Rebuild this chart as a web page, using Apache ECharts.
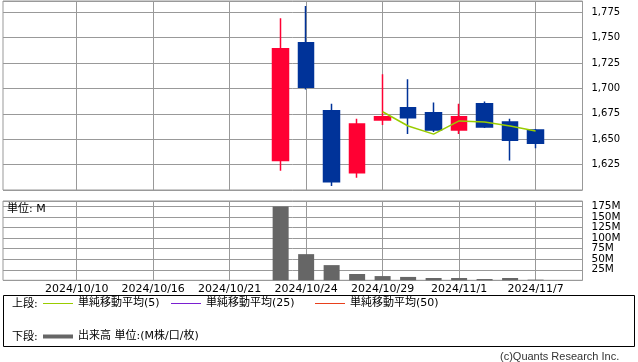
<!DOCTYPE html>
<html><head><meta charset="utf-8">
<script src="https://cdn.jsdelivr.net/npm/echarts@6/dist/echarts.min.js"></script>
<style>html,body{margin:0;padding:0;background:#fff}#c{width:638px;height:362px}</style>
</head><body><div id="c"></div>
<script>
// trading days (x positions are indices into this list)
const tradingDays = ['2024/10/10','2024/10/11','2024/10/15','2024/10/16','2024/10/17','2024/10/18','2024/10/21','2024/10/22','2024/10/23','2024/10/24','2024/10/25','2024/10/28','2024/10/29','2024/10/30','2024/10/31','2024/11/1','2024/11/5','2024/11/6','2024/11/7'];
const tickDates = ['2024/10/10','2024/10/16','2024/10/21','2024/10/24','2024/10/29','2024/11/1','2024/11/7'];

const candleDates = ['2024/10/23','2024/10/24','2024/10/25','2024/10/28','2024/10/29','2024/10/30','2024/10/31','2024/11/1','2024/11/5','2024/11/6','2024/11/7'];
const openP  = [1629,1745,1678,1617,1669,1681,1676,1659,1685,1667,1659];
const closeP = [1739,1701,1608,1665,1672,1671,1659,1672,1662,1649,1646];
const lowP   = [1619,1699,1604,1612,1664,1655,1657,1655,1661,1629,1641];
const highP  = [1769,1781,1685,1670,1714,1709,1686,1685,1687,1670,1660];
const volumeM = [175,62,36,15,10,8,5.5,5.5,3,5.5,1.5];

const ma5Dates = ['2024/10/29','2024/10/30','2024/10/31','2024/11/1','2024/11/5','2024/11/6','2024/11/7'];
const ma5 = [1677,1663,1655,1668,1667,1663,1658];

const idx = d => tradingDays.indexOf(d);
const tickIdx = tickDates.map(idx);

const candleData = candleDates.map((d,i)=>[idx(d), openP[i], closeP[i], lowP[i], highP[i]]);
const volData = candleDates.map((d,i)=>[idx(d), volumeM[i]]);
const ma5Data = ma5Dates.map((d,i)=>[idx(d), ma5[i]]);

const FONT = "'DejaVu Sans', 'Noto Sans CJK JP', sans-serif";
const GRID = '#999999';
const C_MA5 = '#99cc00', C_MA25 = '#7a1fd1', C_MA50 = '#e8401c', C_VOL = '#666666';

const xCommon = {
  type:'value', min:-2.89, max:19.84,
  axisLine:{show:false},
  axisTick:{show:false, customValues:tickIdx},
  splitLine:{show:true, lineStyle:{color:GRID, width:1}},
};
const legText = {fontSize:11, color:'#000', fontFamily:FONT};

const chart = echarts.init(document.getElementById('c'), null, {renderer:'canvas'});
chart.setOption({
  animation:false,
  backgroundColor:'#ffffff',
  textStyle:{fontFamily:FONT},
  title:[
    {text:'単位: M', left:7, top:204, padding:0, textStyle:{fontSize:11, fontWeight:'normal', color:'#000', fontFamily:FONT}},
    {text:'上段:', left:12, top:299, padding:0, textStyle:{fontSize:11, fontWeight:'normal', color:'#000', fontFamily:FONT}},
    {text:'下段:', left:12, top:332, padding:0, textStyle:{fontSize:11, fontWeight:'normal', color:'#000', fontFamily:FONT}},
    {text:'(c)Quants Research Inc.', left:500, top:351, padding:0, textStyle:{fontSize:11, fontWeight:'normal', color:'#333', fontFamily:"'Liberation Sans', sans-serif"}}
  ],
  legend:[
    {data:[{name:'単純移動平均(5)', itemStyle:{color:C_MA5}}], left:43, top:298, icon:'rect', itemWidth:30, itemHeight:1, selectedMode:false, padding:0, textStyle:legText},
    {data:[{name:'単純移動平均(25)', itemStyle:{color:C_MA25}}], left:171, top:298, icon:'rect', itemWidth:30, itemHeight:1, selectedMode:false, padding:0, textStyle:legText},
    {data:[{name:'単純移動平均(50)', itemStyle:{color:C_MA50}}], left:315, top:298, icon:'rect', itemWidth:30, itemHeight:1, selectedMode:false, padding:0, textStyle:legText},
    {data:[{name:'出来高 単位:(M株/口/枚)', itemStyle:{color:C_VOL}}], left:43, top:331, icon:'rect', itemWidth:30, itemHeight:4, selectedMode:false, padding:0, textStyle:legText}
  ],
  graphic:[
    {type:'rect', shape:{x:3.5, y:295.5, width:631, height:51}, style:{fill:'none', stroke:'#000', lineWidth:1}, silent:true}
  ],
  grid:[
    {left:3, right:55.5, top:1, height:189, show:true, borderColor:GRID, borderWidth:1},
    {left:3, right:55.5, top:201, height:79.3, show:true, borderColor:GRID, borderWidth:1}
  ],
  xAxis:[
    Object.assign({gridIndex:0, axisLabel:{show:false}}, xCommon),
    Object.assign({gridIndex:1, axisLabel:{show:true, customValues:tickIdx, margin:3, fontSize:11, color:'#000', fontFamily:FONT, formatter:v=>tradingDays[Math.round(v)]||''}}, xCommon)
  ],
  yAxis:[
    {gridIndex:0, type:'value', position:'right', min:1600, max:1786, interval:25,
     axisLine:{show:false}, axisTick:{show:true, length:5, lineStyle:{color:GRID}},
     splitLine:{show:true, lineStyle:{color:GRID}},
     axisLabel:{margin:9, fontSize:10, color:'#000', fontFamily:FONT, showMinLabel:false, showMaxLabel:false,
       formatter:v=>v.toLocaleString('en-US')}},
    {gridIndex:1, type:'value', position:'right', min:0, max:188, interval:25,
     axisLine:{show:false}, axisTick:{show:true, length:5, lineStyle:{color:GRID}},
     splitLine:{show:true, lineStyle:{color:GRID}},
     axisLabel:{margin:9, fontSize:10.5, lineHeight:10, color:'#000', fontFamily:FONT, showMinLabel:false, showMaxLabel:false,
       formatter:v=>v+'M'}}
  ],
  series:[
    {name:'株価', type:'candlestick', xAxisIndex:0, yAxisIndex:0, data:candleData,
     encode:{x:0, y:[1,2,3,4]}, barWidth:16,
     itemStyle:{color:'#ff0033', color0:'#003399', borderColor:'#ff0033', borderColor0:'#003399', borderWidth:1.5}},
    {name:'単純移動平均(5)', type:'line', xAxisIndex:0, yAxisIndex:0, data:ma5Data, symbol:'none',
     lineStyle:{color:C_MA5, width:1.5}, itemStyle:{color:C_MA5}},
    {name:'単純移動平均(25)', type:'line', xAxisIndex:0, yAxisIndex:0, data:[], symbol:'none',
     lineStyle:{color:C_MA25, width:1.5}, itemStyle:{color:C_MA25}},
    {name:'単純移動平均(50)', type:'line', xAxisIndex:0, yAxisIndex:0, data:[], symbol:'none',
     lineStyle:{color:C_MA50, width:1.5}, itemStyle:{color:C_MA50}},
    {name:'出来高 単位:(M株/口/枚)', type:'bar', xAxisIndex:1, yAxisIndex:1, data:volData, barWidth:16,
     itemStyle:{color:C_VOL}}
  ]
});
</script></body></html>
